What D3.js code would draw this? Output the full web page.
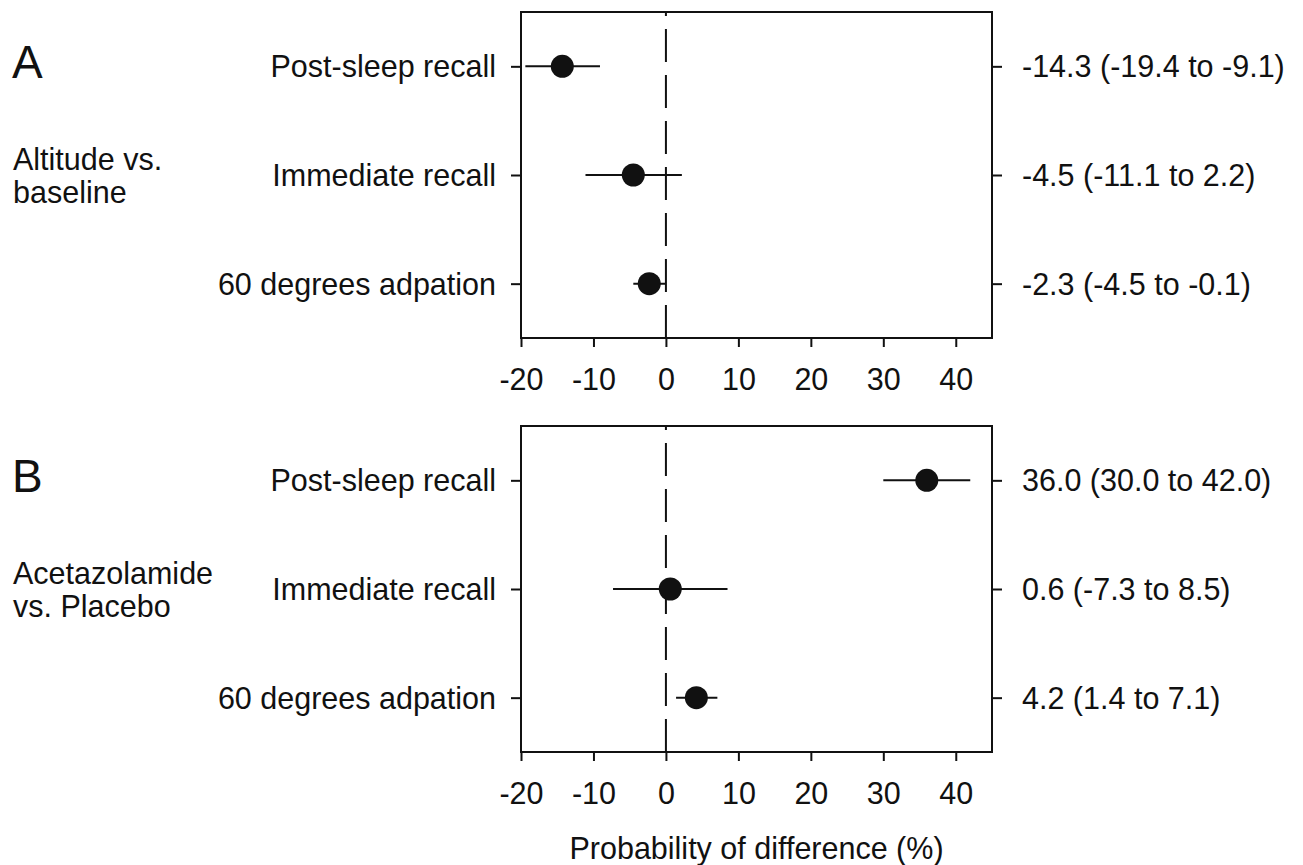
<!DOCTYPE html>
<html>
<head>
<meta charset="utf-8">
<script src="https://cdn.jsdelivr.net/npm/d3@7"></script>
<style>
  body { margin: 0; background: #fff; }
  text { font-family: "Liberation Sans", Arial, sans-serif; fill: #111; }
</style>
</head>
<body>
<div id="chart"></div>
<script>
// outcomes (rows, top to bottom)
var outcomes = ["Post-sleep recall", "Immediate recall", "60 degrees adpation"];

// panel A: altitude vs. baseline
var estA  = [-14.3, -4.5, -2.3];
var lowA  = [-19.4, -11.1, -4.5];
var highA = [-9.1, 2.2, -0.1];

// panel B: acetazolamide vs. placebo
var estB  = [36.0, 0.6, 4.2];
var lowB  = [30.0, -7.3, 1.4];
var highB = [42.0, 8.5, 7.1];

var panelLetters = ["A", "B"];
var comparisons = [["Altitude vs.", "baseline"], ["Acetazolamide", "vs. Placebo"]];
var xTicks = [-20, -10, 0, 10, 20, 30, 40];
var xTitle = "Probability of difference (%)";

var width = 1303, height = 865;
var ink = "#111";

var svg = d3.select("#chart").append("svg")
            .attr("width", width)
            .attr("height", height);

var x = d3.scaleLinear()
          .domain([-20, 45])
          .range([521, 992]);

var panels = [
  { top: 12,  bottom: 338, est: estA, low: lowA, high: highA },
  { top: 426, bottom: 752, est: estB, low: lowB, high: highB }
];

var fmt = function (v) { return v.toFixed(1); };

panels.forEach(function (p, k) {

  var y = d3.scalePoint()
            .domain(outcomes)
            .range([p.top, p.bottom])
            .padding(0.5);

  var g = svg.append("g");

  // zero line, dashed, drawn from the bottom up
  g.append("line")
   .attr("x1", x(0)).attr("x2", x(0))
   .attr("y1", p.bottom).attr("y2", p.top)
   .attr("stroke", ink)
   .attr("stroke-width", 2)
   .attr("stroke-dasharray", "33,13");

  // left axis with outcome names
  var left = g.append("g")
              .attr("transform", "translate(" + x.range()[0] + ",0)")
              .call(d3.axisLeft(y).tickSize(10).tickPadding(15));

  // right axis with estimate (CI)
  var right = g.append("g")
               .attr("transform", "translate(" + x.range()[1] + ",0)")
               .call(d3.axisRight(y).tickSize(10).tickPadding(20)
                 .tickFormat(function (d, i) {
                   return fmt(p.est[i]) + " (" + fmt(p.low[i]) + " to " + fmt(p.high[i]) + ")";
                 }));

  // bottom axis
  var bottom = g.append("g")
                .attr("transform", "translate(0," + p.bottom + ")")
                .call(d3.axisBottom(x).tickValues(xTicks).tickSize(9).tickPadding(21)
                  .tickFormat(function (d) { return String(d); }));

  [left, right, bottom].forEach(function (a) {
    a.select(".domain").remove();
    a.selectAll(".tick line").attr("stroke", ink).attr("stroke-width", 2);
    a.selectAll(".tick text")
     .attr("fill", ink)
     .style("font-family", "'Liberation Sans', Arial, sans-serif")
     .style("font-size", "30.5px");
  });
  left.selectAll(".tick text").attr("dy", "0.34em");
  right.selectAll(".tick text").attr("dy", "0.34em");

  // frame
  g.append("rect")
   .attr("x", x.range()[0])
   .attr("y", p.top)
   .attr("width", x.range()[1] - x.range()[0])
   .attr("height", p.bottom - p.top)
   .attr("fill", "none")
   .attr("stroke", ink)
   .attr("stroke-width", 2);

  // error bars
  g.selectAll("line.ci")
   .data(outcomes)
   .enter().append("line")
   .attr("class", "ci")
   .attr("x1", function (d, i) { return x(p.low[i]); })
   .attr("x2", function (d, i) { return x(p.high[i]); })
   .attr("y1", function (d) { return y(d); })
   .attr("y2", function (d) { return y(d); })
   .attr("stroke", ink)
   .attr("stroke-width", 2);

  // point estimates
  g.selectAll("circle")
   .data(outcomes)
   .enter().append("circle")
   .attr("cx", function (d, i) { return x(p.est[i]); })
   .attr("cy", function (d) { return y(d); })
   .attr("r", 11.5)
   .attr("fill", ink);

  // panel letter
  g.append("text")
   .attr("x", 12)
   .attr("y", p.top + 66)
   .attr("font-size", "46px")
   .text(panelLetters[k]);

  // comparison label
  var mid = y(outcomes[1]);
  var cmp = g.append("text")
             .attr("x", 13)
             .attr("y", mid - 5.5)
             .attr("font-size", "30.5px");
  comparisons[k].forEach(function (line, j) {
    cmp.append("tspan")
       .attr("x", 13)
       .attr("y", mid - 5.5 + j * 33)
       .text(line);
  });
});

svg.append("text")
   .attr("x", (x.range()[0] + x.range()[1]) / 2)
   .attr("y", 859)
   .attr("text-anchor", "middle")
   .attr("font-size", "30.5px")
   .text(xTitle);
</script>
</body>
</html>
